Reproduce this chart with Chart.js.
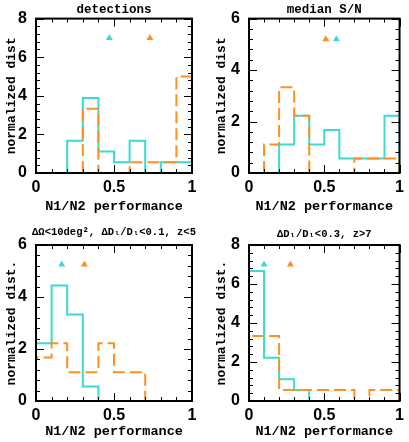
<!DOCTYPE html>
<html>
<head>
<meta charset="utf-8">
<script src="https://cdn.jsdelivr.net/npm/chart.js@4.4.0/dist/chart.umd.min.js"></script>
<style>
  body { margin: 0; background: #fff; width: 409px; height: 442px; position: relative; overflow: hidden; }
  .panel { position: absolute; height: 221px; }
</style>
</head>
<body>
<div class="panel" style="left:0;top:0;width:204px"><canvas id="c1"></canvas></div>
<div class="panel" style="left:204px;top:0;width:205px"><canvas id="c2"></canvas></div>
<div class="panel" style="left:0;top:221px;width:204px"><canvas id="c3"></canvas></div>
<div class="panel" style="left:204px;top:221px;width:205px"><canvas id="c4"></canvas></div>
<script>
// bin edges of the N1/N2 performance histograms
var binEdges = [0, 0.1, 0.2, 0.3, 0.4, 0.5, 0.6, 0.7, 0.8, 0.9, 1.0];
var xTicks = [0, 0.5, 1];

// detections
var detCyan   = [0, 0, 1.67, 3.89, 1.11, 0.56, 1.67, 0, 0.56, 0.56];
var detOrange = [0, 0, 0, 3.33, 0, 0, 0.56, 0.56, 0.56, 5.0];
var detMarks  = [0.47, 0.73];   // cyan, orange
var detMarkY  = 7;

// median S/N
var snCyan   = [0, 0, 1.11, 2.22, 1.11, 1.67, 0.56, 0.56, 0.56, 2.22];
var snOrange = [0, 1.11, 3.33, 2.22, 0, 0, 0, 0.56, 0.56, 0.56];
var snMarks  = [0.58, 0.51];
var snMarkY  = 5.2;

// small sky area, good distance, z<5
var areaCyan   = [2.22, 4.44, 3.33, 0.56, 0, 0, 0, 0, 0, 0];
var areaOrange = [1.67, 2.22, 1.11, 1.11, 2.22, 1.11, 1.11, 0, 0, 0];
var areaMarks  = [0.165, 0.31];
var areaMarkY  = 5.25;

// z>7
var hzCyan   = [6.67, 2.22, 1.11, 0.56, 0, 0, 0, 0, 0, 0];
var hzOrange = [3.33, 3.33, 0.56, 0.56, 0.56, 0.56, 0.56, 0, 0.56, 0.56];
var hzMarks  = [0.10, 0.275];
var hzMarkY  = 7;

var CYAN = '#3dd9d3';
var ORANGE = '#ff9020';
var monoFont = '"Liberation Mono", "DejaVu Sans Mono", monospace';
var sansFont = '"Liberation Sans", Arial, sans-serif';

// turn bin heights into a step outline
function stepPoints(vals) {
  var first = vals.findIndex(function (v) { return v > 0; });
  var last = vals.length - 1;
  while (last > 0 && vals[last] === 0) last--;
  var pts = [{ x: binEdges[first], y: 0 }];
  for (var i = first; i <= last; i++) pts.push({ x: binEdges[i], y: vals[i] });
  pts.push({ x: binEdges[last + 1], y: 0 });
  return pts;
}

// box with inward ticks on all four sides, title centred over the box
var framePlugin = {
  id: 'frame',
  afterDatasetsDraw: function (chart, args, opts) {
    var ctx = chart.ctx, a = chart.chartArea;
    var xs = chart.scales.x, ys = chart.scales.y;
    ctx.save();
    ctx.strokeStyle = '#000';
    ctx.lineWidth = 1;
    ctx.beginPath();
    binEdges.forEach(function (v) {
      var px = Math.round(xs.getPixelForValue(v)) + 0.5;
      var len = xTicks.indexOf(v) >= 0 ? 8 : 4;
      ctx.moveTo(px, a.bottom); ctx.lineTo(px, a.bottom - len);
      ctx.moveTo(px, a.top); ctx.lineTo(px, a.top + len);
    });
    for (var k = 0; k * 0.4 <= ys.max + 1e-6; k++) {
      var py = Math.round(ys.getPixelForValue(k * 0.4)) + 0.5;
      var len = (k % 5 === 0) ? 8 : 4;
      ctx.moveTo(a.left, py); ctx.lineTo(a.left + len, py);
      ctx.moveTo(a.right, py); ctx.lineTo(a.right - len, py);
    }
    ctx.stroke();
    ctx.lineWidth = 2;
    ctx.strokeRect(a.left, a.top, a.right - a.left, a.bottom - a.top);

    ctx.fillStyle = '#000';
    ctx.font = 'bold ' + opts.size + 'px ' + monoFont;
    ctx.textAlign = 'center';
    ctx.textBaseline = 'middle';
    ctx.fillText(opts.text, (a.left + a.right) / 2, a.top - opts.offset);
    ctx.restore();
  }
};

function makePanel(id, opts) {
  var ctx = document.getElementById(id).getContext('2d');
  return new Chart(ctx, {
    type: 'line',
    data: {
      datasets: [{
        data: stepPoints(opts.orange),
        borderColor: ORANGE,
        borderWidth: 2,
        borderDash: [12, 5],
        stepped: true,
        pointRadius: 0,
        fill: false
      }, {
        data: stepPoints(opts.cyan),
        borderColor: CYAN,
        borderWidth: 2,
        stepped: true,
        pointRadius: 0,
        fill: false
      }, {
        data: [{ x: opts.marks[0], y: opts.markY }, { x: opts.marks[1], y: opts.markY }],
        showLine: false,
        pointStyle: 'triangle',
        pointRadius: 4,
        pointBackgroundColor: [CYAN, ORANGE],
        pointBorderColor: [CYAN, ORANGE],
        pointBorderWidth: 0
      }]
    },
    options: {
      responsive: true,
      maintainAspectRatio: false,
      animation: false,
      layout: { padding: { left: 0, right: opts.padRight, top: opts.padTop, bottom: 0 } },
      plugins: {
        legend: { display: false },
        tooltip: { enabled: false },
        frame: { text: opts.title, size: opts.titleSize, offset: opts.titleOffset }
      },
      scales: {
        x: {
          type: 'linear',
          min: 0,
          max: 1,
          afterBuildTicks: function (s) { s.ticks = xTicks.map(function (v) { return { value: v }; }); },
          afterFit: function (s) { s.height = opts.xAxisH; },
          grid: { display: false, drawTicks: false },
          border: { display: false },
          ticks: {
            color: '#000', padding: 5, maxRotation: 0,
            font: { family: sansFont, size: 16, weight: 'bold' },
            callback: function (v) { return String(v); }
          },
          title: {
            display: true,
            text: 'N1/N2 performance',
            color: '#000',
            font: { family: monoFont, size: 13.5, weight: 'bold', lineHeight: 1 },
            padding: { top: 0, bottom: opts.xTitlePad }
          }
        },
        y: {
          min: 0,
          max: opts.yMax,
          afterFit: function (s) { s.width = opts.yAxisW; },
          grid: { display: false, drawTicks: false },
          border: { display: false },
          ticks: { stepSize: 2, color: '#000', padding: 9, font: { family: sansFont, size: 16, weight: 'bold' } },
          title: {
            display: true,
            text: opts.yTitle,
            color: '#000',
            font: { family: monoFont, size: 13, weight: 'bold', lineHeight: 1 },
            padding: { top: opts.yTitlePad, bottom: 0 }
          }
        }
      }
    },
    plugins: [framePlugin]
  });
}

makePanel('c1', {
  title: 'detections', titleSize: 12.5, titleOffset: 9, padTop: 17,
  cyan: detCyan, orange: detOrange, marks: detMarks, markY: detMarkY,
  yMax: 8, yTitle: 'normalized dist', yAxisW: 36, yTitlePad: 5, padRight: 12,
  xAxisH: 48, xTitlePad: 7.5
});
makePanel('c2', {
  title: 'median S/N', titleSize: 12.5, titleOffset: 9, padTop: 17,
  cyan: snCyan, orange: snOrange, marks: snMarks, markY: snMarkY,
  yMax: 6, yTitle: 'normalized dist', yAxisW: 45, yTitlePad: 11, padRight: 5,
  xAxisH: 48, xTitlePad: 7.5
});
makePanel('c3', {
  title: 'ΔΩ<10deg², ΔD\u2097/D\u2097<0.1, z<5', titleSize: 10.5, titleOffset: 13, padTop: 24,
  cyan: areaCyan, orange: areaOrange, marks: areaMarks, markY: areaMarkY,
  yMax: 6, yTitle: 'normalized dist.', yAxisW: 36, yTitlePad: 5, padRight: 12,
  xAxisH: 41, xTitlePad: 3.5
});
makePanel('c4', {
  title: 'ΔD\u2097/D\u2097<0.3, z>7', titleSize: 10.5, titleOffset: 11, padTop: 24,
  cyan: hzCyan, orange: hzOrange, marks: hzMarks, markY: hzMarkY,
  yMax: 8, yTitle: 'normalized dist.', yAxisW: 45, yTitlePad: 11, padRight: 5,
  xAxisH: 41, xTitlePad: 3.5
});
</script>
</body>
</html>
